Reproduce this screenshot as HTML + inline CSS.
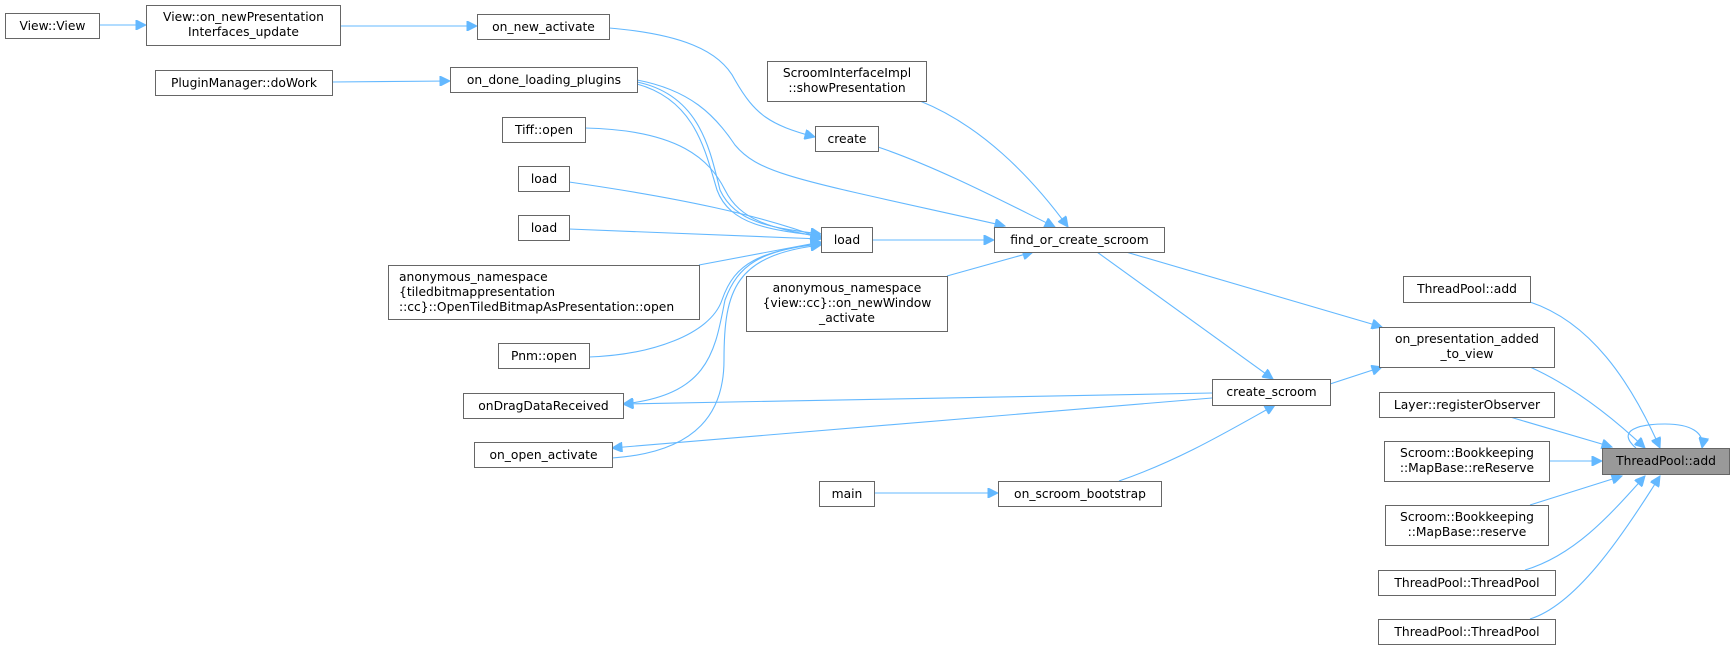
<!DOCTYPE html>
<html><head><meta charset="utf-8"><style>
html,body{margin:0;padding:0;background:#fff;}
svg{display:block;}
text{font-family:"DejaVu Sans","Liberation Sans",sans-serif;font-size:12.3px;fill:#000;}
.n{fill:#fff;stroke:#666;stroke-width:1;}
.e{fill:none;stroke:#63b8ff;stroke-width:1.1;}
</style></head><body>
<svg width="1735" height="650" viewBox="0 0 1735 650" xmlns="http://www.w3.org/2000/svg">
<defs>
<marker id="a" viewBox="0 0 10 10" refX="10" refY="5" markerWidth="12" markerHeight="10" markerUnits="userSpaceOnUse" orient="auto">
<path d="M0,0 L10,5 L0,10 z" fill="#63b8ff" stroke="#63b8ff"/>
</marker>
</defs>
<g class="edges">
<path class="e" marker-end="url(#a)" d="M99,25 L146,25"/>
<path class="e" marker-end="url(#a)" d="M340,26 L477,26"/>
<path class="e" marker-end="url(#a)" d="M332,82 L450,81"/>
<path class="e" marker-end="url(#a)" d="M609,28 C680,34 720,50 735,80 C755,115 770,125 815,137"/>
<path class="e" marker-end="url(#a)" d="M637,80 C690,90 715,115 735,145 C760,175 800,180 1005,226"/>
<path class="e" marker-end="url(#a)" d="M637,82 C700,95 710,150 720,190 C735,222 770,228 821,234"/>
<path class="e" marker-end="url(#a)" d="M637,84 C695,100 705,150 717,190 C730,225 770,230 821,236"/>
<path class="e" marker-end="url(#a)" d="M585,128 C680,130 710,160 725,190 C740,220 770,228 821,237"/>
<path class="e" marker-end="url(#a)" d="M569,182 C680,198 760,215 821,238"/>
<path class="e" marker-end="url(#a)" d="M569,229 L821,239"/>
<path class="e" marker-end="url(#a)" d="M699,265 L821,242"/>
<path class="e" marker-end="url(#a)" d="M589,357 C650,355 710,335 722,300 C735,262 760,252 821,243"/>
<path class="e" marker-end="url(#a)" d="M821,244 C760,250 738,265 725,300 C715,350 710,395 623,404"/>
<path class="e" marker-end="url(#a)" d="M612,458 C700,452 724,410 724,360 C724,290 735,255 821,245"/>
<path class="e" marker-end="url(#a)" d="M872,240 L994,240"/>
<path class="e" marker-end="url(#a)" d="M920,101 C980,125 1030,175 1068,227"/>
<path class="e" marker-end="url(#a)" d="M878,147 C940,168 1010,205 1055,227"/>
<path class="e" marker-end="url(#a)" d="M947,276 L1033,252"/>
<path class="e" marker-end="url(#a)" d="M1097,252 L1273,379"/>
<path class="e" marker-end="url(#a)" d="M1126,252 L1382,327"/>
<path class="e" marker-end="url(#a)" d="M1330,384 L1382,367"/>
<path class="e" marker-end="url(#a)" d="M1212,393 L623,404"/>
<path class="e" marker-end="url(#a)" d="M1212,398 L612,448"/>
<path class="e" marker-end="url(#a)" d="M874,493 L998,493"/>
<path class="e" marker-end="url(#a)" d="M1119,481 C1180,460 1230,430 1275,405"/>
<path class="e" marker-end="url(#a)" d="M1530,302 C1590,322 1630,380 1660,448"/>
<path class="e" marker-end="url(#a)" d="M1530,367 C1570,385 1610,415 1645,448"/>
<path class="e" marker-end="url(#a)" d="M1510,417 L1612,447"/>
<path class="e" marker-end="url(#a)" d="M1549,461 L1602,461"/>
<path class="e" marker-end="url(#a)" d="M1530,505 L1622,476"/>
<path class="e" marker-end="url(#a)" d="M1525,570 C1575,555 1610,515 1645,476"/>
<path class="e" marker-end="url(#a)" d="M1530,619 C1575,605 1620,540 1660,476"/>
<path class="e" marker-end="url(#a)" d="M1636,448 C1615,430 1640,424 1665,424 C1690,424 1705,432 1702,448"/>
</g>
<g>
<rect class="n" x="5.5" y="13.5" width="94" height="25"/><text x="52.5" y="30" text-anchor="middle">View::View</text>
<rect class="n" x="146.5" y="5.5" width="194" height="40"/><text x="243.5" y="21" text-anchor="middle">View::on_newPresentation</text><text x="243.5" y="36" text-anchor="middle">Interfaces_update</text>
<rect class="n" x="155.5" y="70.5" width="177" height="25"/><text x="244" y="87" text-anchor="middle">PluginManager::doWork</text>
<rect class="n" x="477.5" y="14.5" width="132" height="25"/><text x="543.5" y="31" text-anchor="middle">on_new_activate</text>
<rect class="n" x="450.5" y="67.5" width="187" height="25"/><text x="544" y="84" text-anchor="middle">on_done_loading_plugins</text>
<rect class="n" x="502.5" y="117.5" width="83" height="25"/><text x="544" y="134" text-anchor="middle">Tiff::open</text>
<rect class="n" x="518.5" y="166.5" width="51" height="25"/><text x="544" y="183" text-anchor="middle">load</text>
<rect class="n" x="518.5" y="215.5" width="51" height="25"/><text x="544" y="232" text-anchor="middle">load</text>
<rect class="n" x="388.5" y="265.5" width="311" height="54"/><text x="399" y="281">anonymous_namespace</text><text x="399" y="296">{tiledbitmappresentation</text><text x="399" y="311">::cc}::OpenTiledBitmapAsPresentation::open</text>
<rect class="n" x="498.5" y="343.5" width="91" height="25"/><text x="544" y="360" text-anchor="middle">Pnm::open</text>
<rect class="n" x="463.5" y="393.5" width="160" height="25"/><text x="543.5" y="410" text-anchor="middle">onDragDataReceived</text>
<rect class="n" x="474.5" y="442.5" width="138" height="25"/><text x="543.5" y="459" text-anchor="middle">on_open_activate</text>
<rect class="n" x="767.5" y="61.5" width="159" height="40"/><text x="847" y="77" text-anchor="middle">ScroomInterfaceImpl</text><text x="847" y="92" text-anchor="middle">::showPresentation</text>
<rect class="n" x="815.5" y="126.5" width="63" height="25"/><text x="847" y="143" text-anchor="middle">create</text>
<rect class="n" x="821.5" y="227.5" width="51" height="25"/><text x="847" y="244" text-anchor="middle">load</text>
<rect class="n" x="746.5" y="276.5" width="201" height="55"/><text x="847" y="292" text-anchor="middle">anonymous_namespace</text><text x="847" y="307" text-anchor="middle">{view::cc}::on_newWindow</text><text x="847" y="322" text-anchor="middle">_activate</text>
<rect class="n" x="819.5" y="481.5" width="55" height="25"/><text x="847" y="498" text-anchor="middle">main</text>
<rect class="n" x="994.5" y="227.5" width="170" height="25"/><text x="1079.5" y="244" text-anchor="middle">find_or_create_scroom</text>
<rect class="n" x="998.5" y="481.5" width="163" height="25"/><text x="1080" y="498" text-anchor="middle">on_scroom_bootstrap</text>
<rect class="n" x="1212.5" y="379.5" width="118" height="26"/><text x="1271.5" y="396" text-anchor="middle">create_scroom</text>
<rect class="n" x="1403.5" y="276.5" width="127" height="26"/><text x="1467" y="293" text-anchor="middle">ThreadPool::add</text>
<rect class="n" x="1379.5" y="327.5" width="175" height="40"/><text x="1467" y="343" text-anchor="middle">on_presentation_added</text><text x="1467" y="358" text-anchor="middle">_to_view</text>
<rect class="n" x="1379.5" y="392.5" width="175" height="25"/><text x="1467" y="409" text-anchor="middle">Layer::registerObserver</text>
<rect class="n" x="1384.5" y="441.5" width="165" height="40"/><text x="1467" y="457" text-anchor="middle">Scroom::Bookkeeping</text><text x="1467" y="472" text-anchor="middle">::MapBase::reReserve</text>
<rect class="n" x="1385.5" y="505.5" width="163" height="40"/><text x="1467" y="521" text-anchor="middle">Scroom::Bookkeeping</text><text x="1467" y="536" text-anchor="middle">::MapBase::reserve</text>
<rect class="n" x="1378.5" y="570.5" width="177" height="25"/><text x="1467" y="587" text-anchor="middle">ThreadPool::ThreadPool</text>
<rect class="n" x="1378.5" y="619.5" width="177" height="25"/><text x="1467" y="636" text-anchor="middle">ThreadPool::ThreadPool</text>
<rect x="1602.5" y="448.5" width="127" height="26" fill="#999" stroke="#666"/><text x="1666" y="465" text-anchor="middle">ThreadPool::add</text>
</g>
</svg>
</body></html>
